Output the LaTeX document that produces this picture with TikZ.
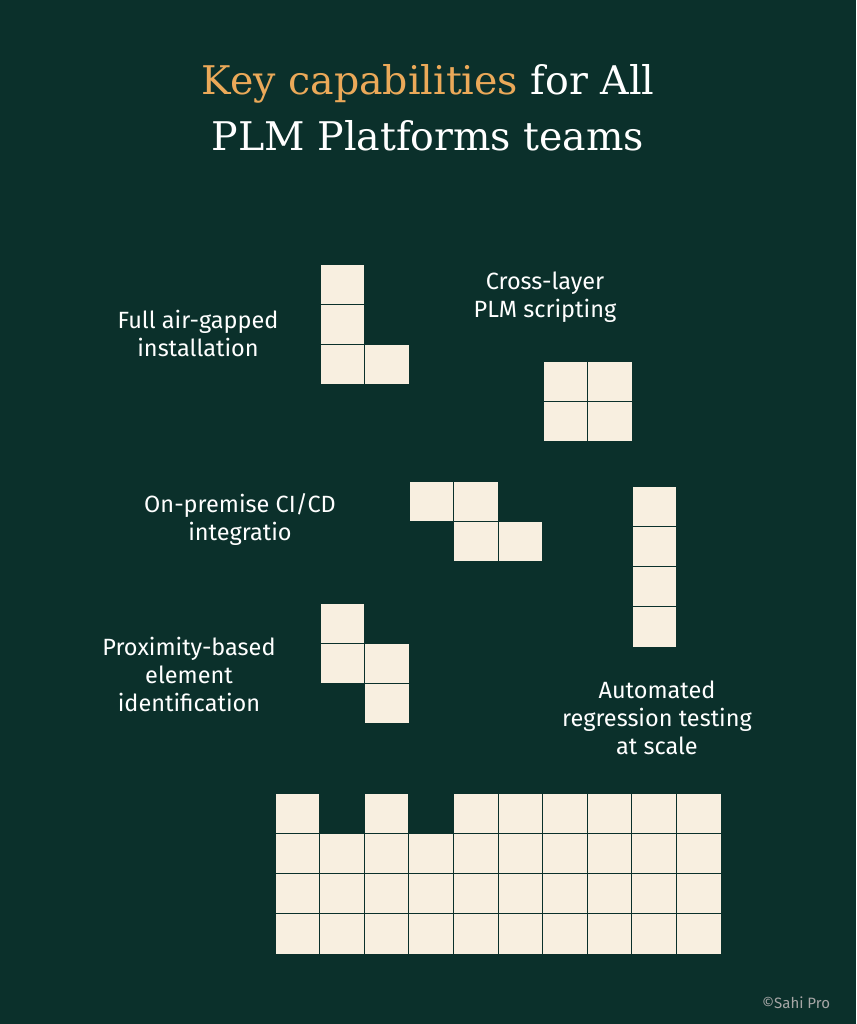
\documentclass[tikz,border=0pt]{standalone}
\usepackage{fontspec}
\setmainfont{Fira Sans}
\newfontfamily\titlefont{DejaVu Serif}
\definecolor{bgGreen}{HTML}{0B302B}
\definecolor{cellCream}{HTML}{F8EFE0}
\definecolor{keyOrange}{HTML}{EBA959}
\begin{document}
\begin{tikzpicture}[x=1pt,y=-1pt,
  cell/.style={draw=bgGreen,line width=0.9pt,fill=cellCream,anchor=north west,
    minimum width=44.6pt,minimum height=40.3pt,inner sep=0,outer sep=0},
  label/.style={text=white,align=center,font=\fontsize{23.5}{28}\selectfont},
  title/.style={text=white,align=center,font=\titlefont\fontsize{39.5}{56}\selectfont},
]
  \fill[bgGreen] (0,0) rectangle (856,1024);
  \useasboundingbox (0,0) rectangle (856,1024);
  % title
  \node[title] (title) at (428,108) {\textcolor{keyOrange}{Key capabilities} for All\\PLM Platforms teams};
  % pieces: column/row offsets in cells
  \foreach \name/\x/\y/\cells in {
      lpiece/320/264/{0/0,0/1,0/2,1/2},
      square/543/361/{0/0,1/0,0/1,1/1},
      zpiece/409/481/{0/0,1/0,1/1,2/1},
      ipiece/632/486/{0/0,0/1,0/2,0/3},
      spiece/320/603/{0/0,0/1,1/1,1/2},
      base/275/793/{0/0,2/0,4/0,5/0,6/0,7/0,8/0,9/0}}
    \foreach \c/\r [count=\i] in \cells
      \node[cell] (\name-\i) at (\x+44.6*\c,\y+40.3*\r) {};
  \foreach \r in {1,2,3}
    \foreach \c in {0,...,9}
      \node[cell] (base-\c-\r) at (275+44.6*\c,793+40.3*\r) {};
  % labels
  \node[label] (airgap) at (198,333) {Full air-gapped\\installation};
  \node[label] (script) at (545,297) {Cross-layer\\PLM scripting};
  \node[label] (cicd) at (240,520) {On-premise CI/CD\\integratio};
  \node[label] (proxim) at (189,674) {Proximity-based\\element\\identification};
  \node[label] (regress) at (657,718) {Automated\\regression testing\\at scale};
  \node[text=gray!70,font=\fontsize{15}{16}\selectfont] (credit) at (796,1003) {©Sahi Pro};
\end{tikzpicture}
\end{document}
